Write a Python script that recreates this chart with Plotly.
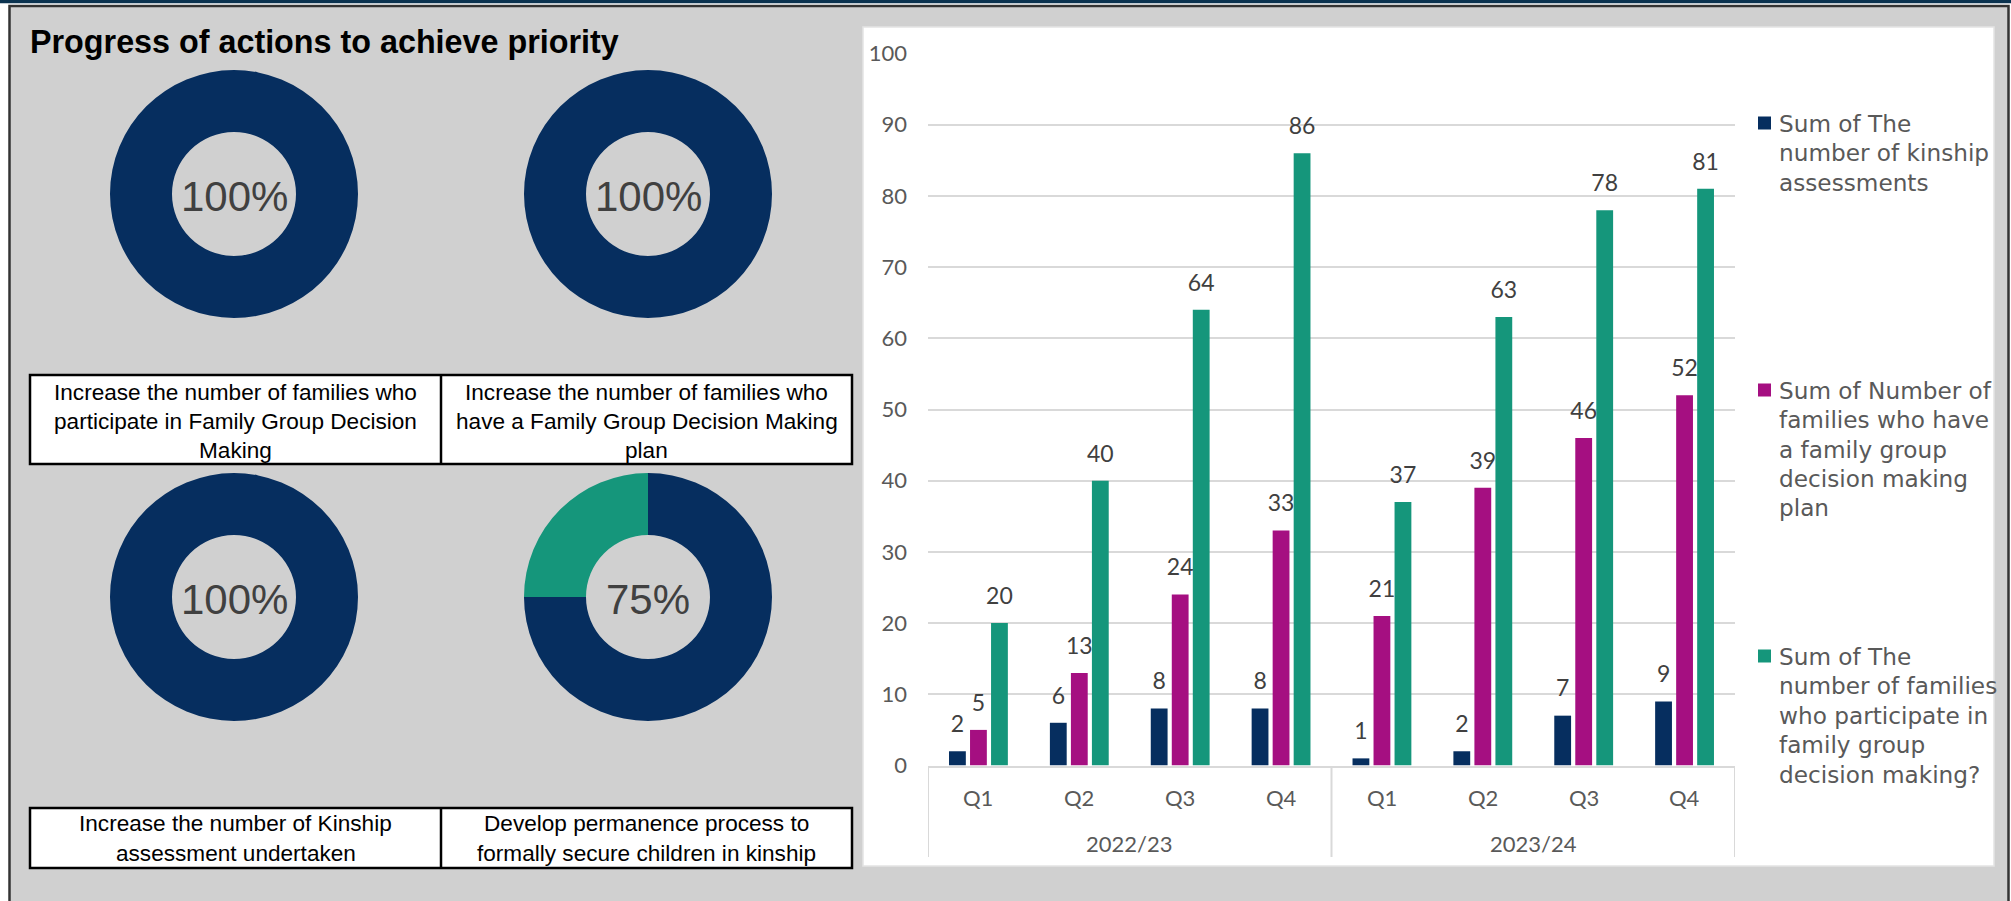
import plotly.graph_objects as go

W, H = 2011, 901

# ---------------- data ----------------
years = ["2022/23"] * 4 + ["2023/24"] * 4
quarters = ["Q1", "Q2", "Q3", "Q4", "Q1", "Q2", "Q3", "Q4"]
kinship_assessments = [2, 6, 8, 8, 1, 2, 7, 9]
fgdm_plan = [5, 13, 24, 33, 21, 39, 46, 52]
fgdm_participate = [20, 40, 64, 86, 37, 63, 78, 81]

series_names = [
    "Sum of The<br>number of kinship<br>assessments",
    "Sum of Number of<br>families who have<br>a family group<br>decision making<br>plan",
    "Sum of The<br>number of families<br>who participate in<br>family group<br>decision making?",
]

progress_pct = [100, 100, 100, 75]
remaining_pct = [0, 0, 0, 25]
action_labels = [
    ["Increase the number of families who", "participate in Family Group Decision", "Making"],
    ["Increase the number of families who", "have a Family Group Decision Making", "plan"],
    ["Increase the number of Kinship", "assessment undertaken"],
    ["Develop permanence process to", "formally secure children in kinship"],
]
title_text = "Progress of actions to achieve priority"

# ---------------- style ----------------
NAVY = "#062E5F"
MAGENTA = "#A50F81"
GREEN = "#15967B"
PANEL = "#D0D0D0"
GRID = "#D9D9D9"
AXTXT = "#595959"
LBLTXT = "#404040"
NARROW = "Liberation Sans, Arial, sans-serif"
CHARTF = "Lato, Open Sans, sans-serif"
LEGF = "DejaVu Sans, sans-serif"


def px_x(p):
    return p / W


def px_y(p):
    return 1 - p / H


fig = go.Figure()

# ---------------- donuts ----------------
donut_centers = [(234, 194), (648, 194), (234, 597), (648, 597)]
R = 124
for (cx, cy), done, rem in zip(donut_centers, progress_pct, remaining_pct):
    fig.add_trace(go.Pie(
        values=[done, rem],
        marker=dict(colors=[NAVY, GREEN], line=dict(width=0)),
        hole=0.5, sort=False, direction="clockwise", rotation=0,
        textinfo="none", hoverinfo="skip", showlegend=False,
        domain=dict(x=[px_x(cx - R), px_x(cx + R)], y=[px_y(cy + R), px_y(cy - R)]),
    ))
    fig.add_annotation(
        x=px_x(cx), y=px_y(cy + 2), xref="paper", yref="paper",
        text=f"{done}%", showarrow=False,
        font=dict(family=NARROW, size=42, color=LBLTXT),
        xanchor="center", yanchor="middle",
    )

# ---------------- bar chart ----------------
colors = [NAVY, MAGENTA, GREEN]
series = [kinship_assessments, fgdm_plan, fgdm_participate]
bargap = 0.375
slot = (1 - bargap) / 3
for k, (vals, col, name) in enumerate(zip(series, colors, series_names)):
    fig.add_trace(go.Bar(
        x=[years, quarters], y=vals, name=name,
        marker=dict(color=col, line=dict(width=0)),
        showlegend=False, hoverinfo="skip",
    ))

# data labels on an overlaid linear axis aligned with the category axis
label_offset = 3.5
for k, vals in enumerate(series):
    fig.add_trace(go.Scatter(
        x=[i + (k - 1) * slot for i in range(len(vals))],
        y=[v + label_offset for v in vals],
        text=[str(v) for v in vals],
        mode="text", textposition="middle center",
        textfont=dict(family=CHARTF, size=23, color=LBLTXT),
        xaxis="x2", yaxis="y", showlegend=False, hoverinfo="skip",
        cliponaxis=False,
    ))

xdom = [px_x(928), px_x(1735)]
ydom = [px_y(765.5), px_y(53.5)]
n = len(quarters)

fig.update_layout(
    width=W, height=H,
    margin=dict(l=0, r=0, t=0, b=0, pad=0),
    paper_bgcolor="white",
    plot_bgcolor="white",
    barmode="group", bargap=bargap, bargroupgap=0.2,
    xaxis=dict(
        type="multicategory", domain=xdom, range=[-0.5, n - 0.5],
        showline=True, linecolor=GRID, linewidth=2,
        showgrid=False, ticks="", showticklabels=False, showdividers=False,
        automargin=False,
    ),
    xaxis2=dict(
        overlaying="x", domain=xdom, range=[-0.5, n - 0.5],
        visible=False, anchor="y", automargin=False,
    ),
    yaxis=dict(
        domain=ydom, range=[0, 100], dtick=10,
        showgrid=True, gridcolor=GRID, gridwidth=2,
        zeroline=False, showline=False, ticks="",
        tickfont=dict(family=CHARTF, size=22, color=AXTXT),
        ticklabelstandoff=20, automargin=False,
    ),
)

# ---------------- background shapes ----------------
shapes = []
shapes.append(dict(type="rect", xref="paper", yref="paper", layer="below",
                   x0=0, x1=1, y0=px_y(3.3), y1=1, fillcolor="#0B3350", line=dict(width=0)))
shapes.append(dict(type="rect", xref="paper", yref="paper", layer="below",
                   x0=px_x(9.5), x1=px_x(2008.5), y0=px_y(905), y1=px_y(6),
                   fillcolor=PANEL, line=dict(color="#333333", width=2.5)))
shapes.append(dict(type="rect", xref="paper", yref="paper", layer="below",
                   x0=px_x(863), x1=px_x(1994), y0=px_y(866), y1=px_y(27),
                   fillcolor="white", line=dict(color="#E4E4E4", width=1.5)))
for (top, bot) in [(375, 464), (808, 868)]:
    shapes.append(dict(type="rect", xref="paper", yref="paper", layer="below",
                       x0=px_x(30), x1=px_x(852), y0=px_y(bot), y1=px_y(top),
                       fillcolor="white", line=dict(color="black", width=2.5)))
    shapes.append(dict(type="line", xref="paper", yref="paper", layer="below",
                       x0=px_x(441), x1=px_x(441), y0=px_y(bot), y1=px_y(top),
                       line=dict(color="black", width=2.5)))
legend_first_line = [123, 390, 656]
for yc, col in zip(legend_first_line, colors):
    shapes.append(dict(type="rect", xref="paper", yref="paper", layer="above",
                       x0=px_x(1758), x1=px_x(1771), y0=px_y(yc + 6.5), y1=px_y(yc - 6.5),
                       fillcolor=col, line=dict(width=0)))
# category group dividers (at group boundaries of the category axis)
group_names = []
for y in years:
    if y not in group_names:
        group_names.append(y)
bounds = [-0.5]
for g in group_names:
    bounds.append(bounds[-1] + years.count(g))
for b in bounds:
    shapes.append(dict(type="line", xref="x2", yref="paper", layer="above",
                       x0=b, x1=b, y0=px_y(857), y1=px_y(766),
                       line=dict(color=GRID, width=2)))
fig.update_layout(shapes=shapes)

# ---------------- axis category labels ----------------
for i, q in enumerate(quarters):
    fig.add_annotation(x=i, y=px_y(797), xref="x2", yref="paper", text=q,
                       showarrow=False, xanchor="center", yanchor="middle",
                       font=dict(family=CHARTF, size=22, color=AXTXT))
for g, b0, b1 in zip(group_names, bounds[:-1], bounds[1:]):
    fig.add_annotation(x=(b0 + b1) / 2, y=px_y(843), xref="x2", yref="paper", text=g,
                       showarrow=False, xanchor="center", yanchor="middle",
                       font=dict(family=CHARTF, size=22, color=AXTXT))

# ---------------- text ----------------
fig.add_annotation(x=px_x(28), y=px_y(42), xref="paper", yref="paper",
                   text=f"<b>{title_text}</b>", showarrow=False,
                   xanchor="left", yanchor="middle",
                   font=dict(family=NARROW, size=32.3, color="black"))

cell_centers_x = [235.5, 646.5, 235.5, 646.5]
cell_first_line = [392, 392, 823, 823]
cell_line_step = [29, 29, 30, 30]
for lines, cx, y0, step in zip(action_labels, cell_centers_x, cell_first_line, cell_line_step):
    for j, line in enumerate(lines):
        fig.add_annotation(x=px_x(cx), y=px_y(y0 + j * step), xref="paper", yref="paper",
                           text=line, showarrow=False, xanchor="center", yanchor="middle",
                           font=dict(family=NARROW, size=22.6, color="black"))

for name, yc in zip(series_names, legend_first_line):
    for j, line in enumerate(name.split("<br>")):
        fig.add_annotation(x=px_x(1777), y=px_y(yc + j * 29.5), xref="paper", yref="paper",
                           text=line, showarrow=False, xanchor="left", yanchor="middle",
                           font=dict(family=LEGF, size=23.2, color=AXTXT))

fig.write_html("out.html",
               config={"displayModeBar": False},
               post_script="document.body.style.margin='0px';document.body.style.overflow='hidden';")
